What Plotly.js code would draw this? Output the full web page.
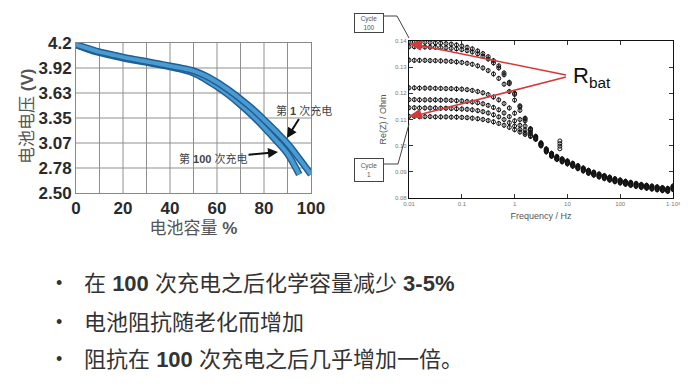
<!DOCTYPE html>
<html><head><meta charset="utf-8">
<script src="https://cdn.plot.ly/plotly-3.0.1.min.js"></script>
<style>html,body{margin:0;padding:0;background:#fff;} #chart{width:699px;height:389px;}</style>
</head><body><div id="chart"></div>
<script>
// ---------- Left chart: discharge curves ----------
const capacity1 = [0,5,10,15,20,25,30,35,40,45,50,55,60,65,70,75,80,85,90,95,100];
const voltage1  = [4.18,4.14,4.10,4.07,4.04,4.015,3.99,3.965,3.94,3.915,3.885,3.83,3.755,3.665,3.565,3.455,3.33,3.20,3.06,2.89,2.71];
const capacity100 = [0,5,10,15,20,25,30,35,40,45,50,55,60,65,70,75,80,85,90,95];
const voltage100  = [4.18,4.13,4.09,4.06,4.03,4.005,3.98,3.955,3.93,3.90,3.86,3.79,3.705,3.61,3.50,3.38,3.245,3.10,2.945,2.71];
const voltTickVals = [2.5,2.78333,3.06667,3.35,3.63333,3.91667,4.2];
const voltTickText = ['2.50','2.78','3.07','3.35','3.63','3.92','4.2'];
const capGridVals = [10,20,30,40,50,60,70,80,90];

// ---------- Right chart: Re(Z) vs frequency ----------
const freq = [0.01,0.0126,0.0158,0.02,0.0251,0.0316,0.0398,0.0501,0.0631,0.0794,
              0.1,0.126,0.158,0.2,0.251,0.316,0.398,0.501,0.631,0.794,
              1,1.26,1.58,2,2.51,3.16,3.98,5.01,6.31,7.94,
              10,12.6,15.8,20,25.1,31.6,39.8,50.1,63.1,79.4,
              100,126,158,200,251,316,398,501,631,794,1000];
const reZ_a = [0.1396,0.1396,0.1395,0.1395,0.1394,0.1393,0.1392,0.1390,0.1388,0.1385,0.1381,0.1376,0.1370,0.1362,0.1352,0.1340,0.1325,0.1305,0.1278,0.1242,0.1200,0.1152,0.1105,0.1065,
               0.1036,0.1011,0.0988,0.0971,0.0959,0.0950,0.0942,0.0933,0.0924,0.0915,0.0906,0.0899,0.0892,0.0886,0.0880,0.0874,0.0869,0.0864,0.0860,0.0856,0.0852,0.0849,0.0846,0.0843,0.0840,0.0837,0.0846];
const reZ_b = [0.1378,0.1378,0.1377,0.1377,0.1376,0.1376,0.1375,0.1374,0.1372,0.1370,0.1367,0.1363,0.1358,0.1351,0.1342,0.1331,0.1316,0.1297,0.1271,0.1237,0.1196,0.1148,0.1102,0.1063,
               0.1034,0.1009,0.0986,0.0969,0.0957,0.0948,0.0940,0.0931,0.0922,0.0913,0.0904,0.0897,0.0890,0.0884,0.0878,0.0872,0.0867,0.0862,0.0858,0.0854,0.0850,0.0847,0.0844,0.0841,0.0838,0.0835,0.0843];
const reZ_c = [0.1327,0.1326,0.1326,0.1326,0.1325,0.1325,0.1324,0.1323,0.1322,0.1320,0.1318,0.1315,0.1311,0.1305,0.1297,0.1287,0.1274,0.1257,0.1235,0.1207,0.1174,0.1135,0.1095,0.1060,
               0.1032,0.1007,0.0984,0.0967,0.0955,0.0946,0.0938,0.0929,0.0920,0.0911,0.0902,0.0895,0.0888,0.0882,0.0876,0.0870,0.0865,0.0860,0.0856,0.0852,0.0848,0.0845,0.0842,0.0839,0.0836,0.0833,0.0841];
const reZ_d = [0.1221,0.1221,0.1220,0.1220,0.1220,0.1219,0.1219,0.1218,0.1218,0.1217,0.1216,0.1214,0.1211,0.1207,0.1202,0.1195,0.1186,0.1175,0.1161,0.1144,0.1124,0.1100,0.1075,0.1052,
               0.1030,0.1005,0.0982,0.0965,0.0953,0.0944,0.0936,0.0927,0.0918,0.0909,0.0900,0.0893,0.0886,0.0880,0.0874,0.0868,0.0863,0.0858,0.0854,0.0850,0.0846,0.0843,0.0840,0.0837,0.0834,0.0831,0.0838];
const reZ_e = [0.1176,0.1176,0.1175,0.1175,0.1175,0.1175,0.1174,0.1174,0.1173,0.1172,0.1171,0.1169,0.1167,0.1164,0.1160,0.1154,0.1146,0.1137,0.1125,0.1111,0.1095,0.1078,0.1060,0.1044,
               0.1028,0.1003,0.0980,0.0963,0.0951,0.0942,0.0934,0.0925,0.0916,0.0907,0.0898,0.0891,0.0884,0.0878,0.0872,0.0866,0.0861,0.0856,0.0852,0.0848,0.0844,0.0841,0.0838,0.0835,0.0832,0.0829,0.0836];
const reZ_f = [0.1145,0.1145,0.1144,0.1144,0.1144,0.1144,0.1143,0.1143,0.1142,0.1141,0.1140,0.1139,0.1137,0.1134,0.1130,0.1125,0.1118,0.1110,0.1100,0.1088,0.1075,0.1062,0.1049,0.1038,
               0.1026,0.1001,0.0978,0.0961,0.0949,0.0940,0.0932,0.0923,0.0914,0.0905,0.0896,0.0889,0.0882,0.0876,0.0870,0.0864,0.0859,0.0854,0.0850,0.0846,0.0842,0.0839,0.0836,0.0833,0.0830,0.0827,0.0834];
const reZ_g = [0.1112,0.1112,0.1111,0.1111,0.1111,0.1110,0.1110,0.1110,0.1109,0.1109,0.1108,0.1107,0.1105,0.1103,0.1100,0.1096,0.1091,0.1085,0.1078,0.1070,0.1061,0.1052,0.1043,0.1035,
               0.1024,0.0999,0.0976,0.0959,0.0947,0.0938,0.0930,0.0921,0.0912,0.0903,0.0894,0.0887,0.0880,0.0874,0.0868,0.0862,0.0857,0.0852,0.0848,0.0844,0.0840,0.0837,0.0834,0.0831,0.0828,0.0825,0.0832];
const outlierFreq = [7.2,7.2,7.2,7.2];
const outlierReZ = [0.1018,0.1008,0.0998,0.0988];
const freqTickVals = [0.01,0.1,1,10,100,1000];
const freqTickText = ['0.01','0.1','1','10','100','1·10³'];
const ohmTickVals = [0.08,0.09,0.10,0.11,0.12,0.13,0.14];
const ohmTickText = ['0.08','0.09','0.10','0.11','0.12','0.13','0.14'];

// pixel -> paper helpers (layout placement only)
const W = 699, H = 389;
const px = x => x / W;
const py = y => 1 - y / H;
const gridColor = '#8f8f8f';

const traces = [];
// left chart grid lines, drawn on the left axes underneath the curves
const gx = [], gy = [];
capGridVals.forEach(v => { gx.push(v, v, null); gy.push(2.5, 4.2, null); });
voltTickVals.slice(1, -1).forEach(v => { gx.push(0, 100, null); gy.push(v, v, null); });
traces.push({x:gx, y:gy, type:'scatter', mode:'lines', xaxis:'x', yaxis:'y', hoverinfo:'skip',
  connectgaps:false, line:{color:gridColor, width:1}, showlegend:false});

function band(x, y) {
  traces.push({x, y, type:'scatter', mode:'lines', xaxis:'x', yaxis:'y', hoverinfo:'skip',
    line:{color:'#1f5f93', width:7, shape:'spline'}, showlegend:false});
  traces.push({x, y, type:'scatter', mode:'lines', xaxis:'x', yaxis:'y', hoverinfo:'skip',
    line:{color:'#4b9bd3', width:4, shape:'spline'}, showlegend:false});
}
band(capacity100, voltage100);
band(capacity1, voltage1);

[reZ_a, reZ_b, reZ_c, reZ_d, reZ_e, reZ_f, reZ_g].forEach(s => {
  traces.push({x:freq, y:s, type:'scatter', mode:'markers', xaxis:'x2', yaxis:'y2', showlegend:false,
    marker:{symbol:'circle-open', size:4, color:'#111', line:{width:1, color:'#111'}},
    error_y:{type:'constant', value:0.0010, thickness:1, width:0, color:'#222'}});
});
traces.push({x:outlierFreq, y:outlierReZ, type:'scatter', mode:'markers', xaxis:'x2', yaxis:'y2', showlegend:false,
  marker:{symbol:'circle-open', size:4, color:'#111', line:{width:1, color:'#111'}}});

const cjk = 'Liberation Sans, Arial, Noto Sans CJK SC, sans-serif';
const narrow = 'Liberation Sans Narrow, Arial Narrow, Liberation Sans, Arial, sans-serif';
const sm = 'Liberation Sans, Arial, sans-serif';

function ann(o) { return Object.assign({xref:'paper', yref:'paper', xanchor:'center', yanchor:'middle', showarrow:false}, o); }

const annotations = [
  ann({x:px(28), y:py(117), textangle:-90, text:'电池电压 <b>(V)</b>', font:{family:cjk, size:17, color:'#555'}}),
  ann({x:px(287), y:py(138), ax:17, ay:-27, text:'第 <b>1</b> 次充电', showarrow:true,
       arrowhead:2, arrowsize:1, arrowwidth:2, arrowcolor:'#111', font:{family:cjk, size:11, color:'#444'}}),
  ann({x:px(278), y:py(152), ax:-65, ay:6, text:'第 <b>100</b> 次充电', showarrow:true,
       arrowhead:2, arrowsize:1, arrowwidth:2, arrowcolor:'#111', font:{family:cjk, size:11, color:'#444'}}),
  ann({x:px(571), y:py(77), xanchor:'left', text:'R<sub>bat</sub>',
       font:{family:sm, size:22, color:'#111'}}),
  ann({x:px(368.5), y:py(23), text:'Cycle<br>100', font:{family:sm, size:6.5, color:'#555'},
       bordercolor:'#444', borderwidth:1, width:28, height:18, borderpad:0}),
  ann({x:px(368.5), y:py(170), text:'Cycle<br>1', font:{family:sm, size:6.5, color:'#555'},
       bordercolor:'#444', borderwidth:1, width:28, height:22, borderpad:0}),
  ann({x:px(59), y:py(283), text:'•', font:{family:cjk, size:18, color:'#333'}}),
  ann({x:px(59), y:py(322), text:'•', font:{family:cjk, size:18, color:'#333'}}),
  ann({x:px(59), y:py(359), text:'•', font:{family:cjk, size:18, color:'#333'}}),
  ann({x:px(82), y:py(283), xanchor:'left', text:'在 <b>100</b> 次充电之后化学容量减少 <b>3-5%</b>',
       font:{family:cjk, size:22, color:'#333'}}),
  ann({x:px(82), y:py(322), xanchor:'left', text:'电池阻抗随老化而增加',
       font:{family:cjk, size:22, color:'#333'}}),
  ann({x:px(82), y:py(359), xanchor:'left', text:'阻抗在 <b>100</b> 次充电之后几乎增加一倍。',
       font:{family:cjk, size:22, color:'#333'}})
];

const red = '#d23a3a';
const shapes = [
  {type:'path', xref:'paper', yref:'paper', line:{color:'#444', width:1},
   path:`M ${px(383)} ${py(16)} L ${px(397)} ${py(16)} L ${px(409)} ${py(38)}`},
  {type:'path', xref:'paper', yref:'paper', line:{color:'#444', width:1},
   path:`M ${px(383)} ${py(164)} L ${px(398)} ${py(164)} L ${px(409)} ${py(124)}`},
  {type:'path', xref:'paper', yref:'paper', line:{color:red, width:1.5},
   path:`M ${px(566)} ${py(75)} L ${px(418)} ${py(45)}`},
  {type:'path', xref:'paper', yref:'paper', line:{color:red, width:1.5},
   path:`M ${px(566)} ${py(77)} L ${px(418)} ${py(115)}`},
  {type:'path', xref:'paper', yref:'paper', line:{color:red, width:1}, fillcolor:red,
   path:`M ${px(410)} ${py(44)} L ${px(422)} ${py(41)} L ${px(420.5)} ${py(50)} Z`},
  {type:'path', xref:'paper', yref:'paper', line:{color:red, width:1}, fillcolor:red,
   path:`M ${px(410)} ${py(116)} L ${px(422)} ${py(118.5)} L ${px(419.5)} ${py(109.5)} Z`}
];

const layout = {
  width: W, height: H,
  margin:{l:0, r:0, t:0, b:0},
  paper_bgcolor:'#fff', plot_bgcolor:'#fff',
  showlegend:false,
  xaxis:{domain:[px(76), px(311)], range:[0,100], anchor:'y',
    tickmode:'linear', tick0:0, dtick:20, showgrid:false,
    zeroline:false, showline:true, mirror:true, linecolor:'#888', linewidth:1,
    tickfont:{family:narrow, size:17, weight:'bold', color:'#2a2a2a'}, ticks:'',
    title:{text:'电池容量 <b>%</b>', standoff:4, font:{family:cjk, size:17, color:'#555'}}},
  yaxis:{domain:[py(193), py(43)], range:[2.5,4.2], anchor:'x',
    tickmode:'array', tickvals:voltTickVals, ticktext:voltTickText,
    showgrid:false, zeroline:false,
    showline:true, mirror:true, linecolor:'#888', linewidth:1,
    tickfont:{family:narrow, size:17, weight:'bold', color:'#2a2a2a'}, ticks:''},
  xaxis2:{domain:[px(409), px(673)], type:'log', range:[-2,3], anchor:'y2',
    tickmode:'array', tickvals:freqTickVals, ticktext:freqTickText, showgrid:false, zeroline:false,
    showline:true, mirror:'allticks', linecolor:'#111', linewidth:1.2, ticks:'inside', ticklen:4, tickcolor:'#333',
    tickfont:{family:sm, size:6, color:'#777'},
    title:{text:'Frequency / Hz', standoff:6, font:{family:sm, size:9, color:'#555'}}},
  yaxis2:{domain:[py(198), py(41)], range:[0.08,0.14], anchor:'x2',
    tickmode:'array', tickvals:ohmTickVals, ticktext:ohmTickText, showgrid:false, zeroline:false,
    showline:true, mirror:'allticks', linecolor:'#111', linewidth:1.2, ticks:'inside', ticklen:4, tickcolor:'#333',
    tickfont:{family:sm, size:6, color:'#777'},
    title:{text:'Re(Z) / Ohm', standoff:6, font:{family:sm, size:9, color:'#555'}}},
  annotations, shapes
};

Plotly.newPlot('chart', traces, layout, {staticPlot:true, displayModeBar:false});
</script>
</body></html>
